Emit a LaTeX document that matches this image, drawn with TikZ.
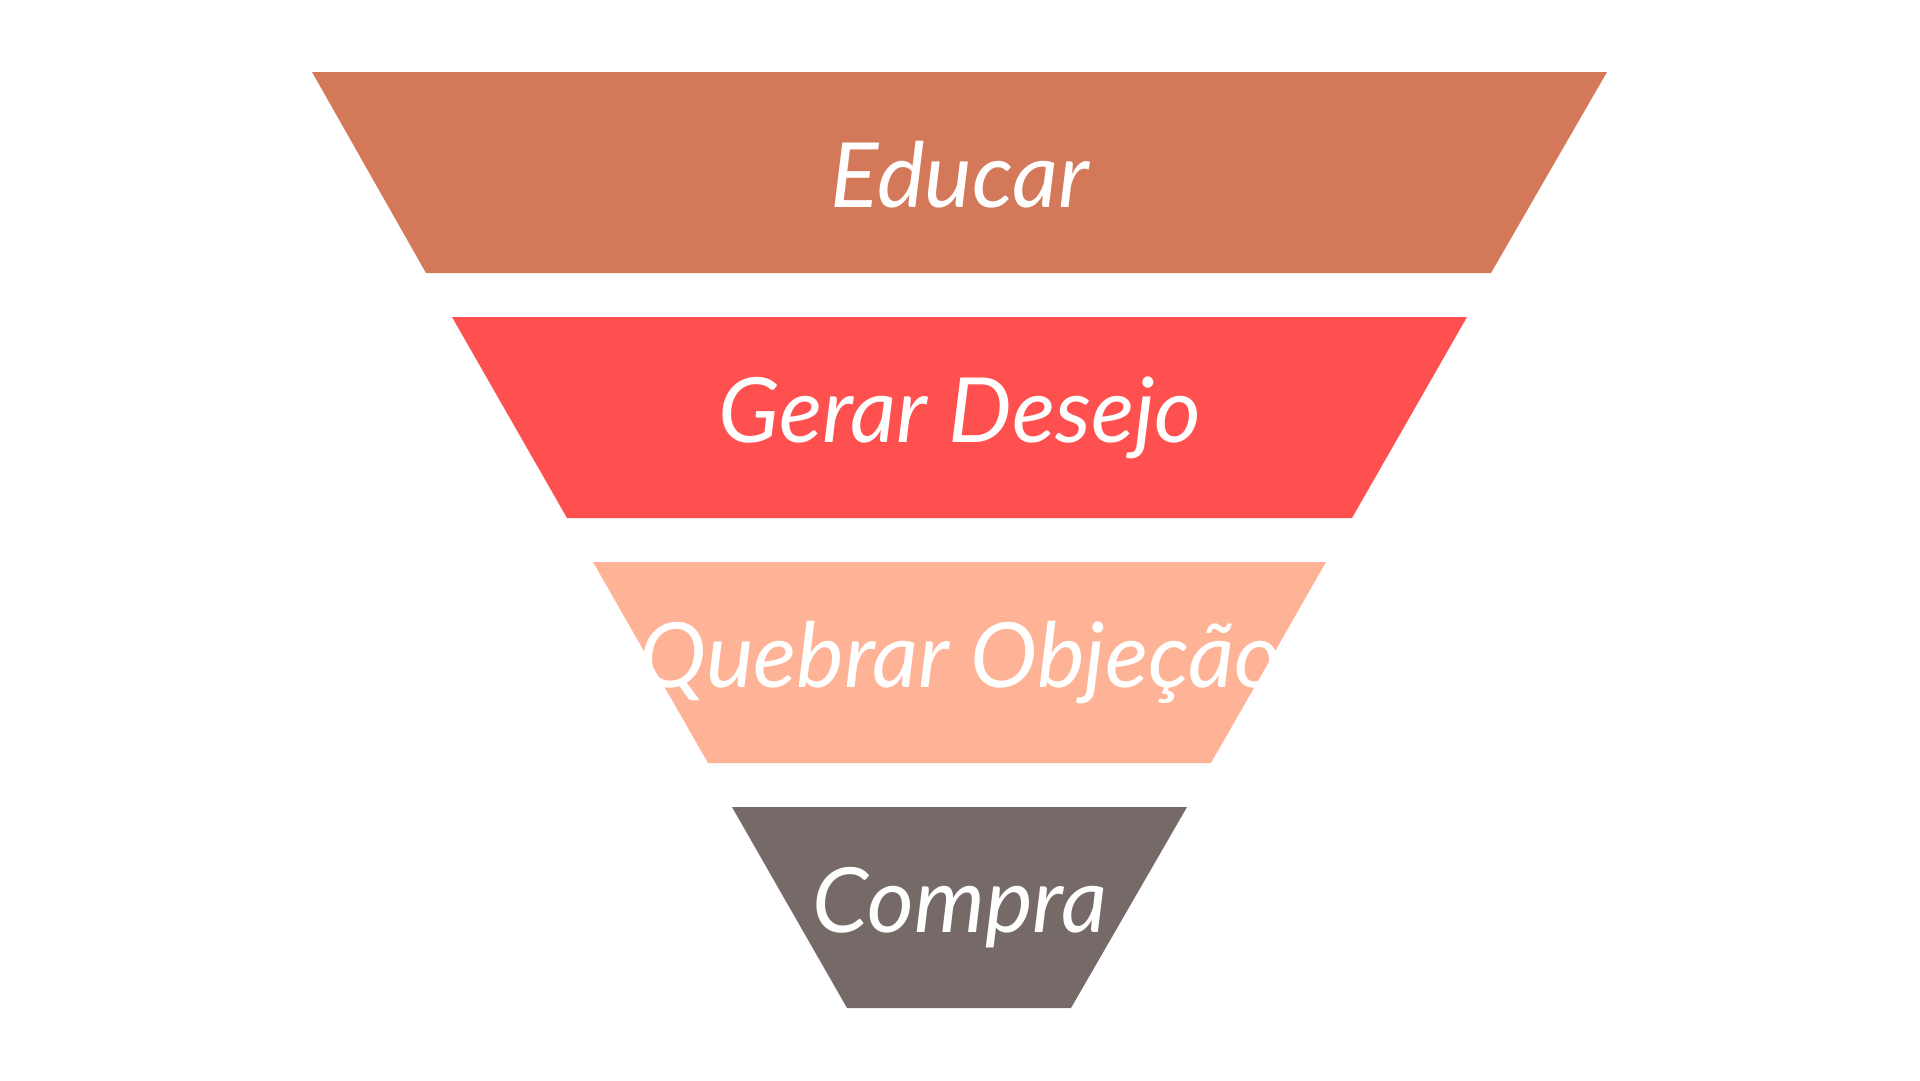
\documentclass[tikz,border=0pt]{standalone}
\usepackage{fontspec}
\setmainfont{Lato}
\definecolor{educar}{HTML}{D4785A}
\definecolor{desejo}{HTML}{FF5050}
\definecolor{objecao}{HTML}{FFB396}
\definecolor{compra}{HTML}{756A67}
\tikzset{label/.style = {text = white, font = \fontsize{90}{100}\selectfont\itshape}}

\begin{document}
\begin{tikzpicture}[x=1pt, y=-1pt]
      \useasboundingbox (0, 0) rectangle (1920, 1080);

      \fill [educar] (312, 72) -- (1607, 72) -- (1491, 273) -- (426, 273) -- cycle;
      \fill [desejo] (452, 317) -- (1467, 317) -- (1352, 518) -- (567, 518) -- cycle;
      \fill [objecao] (593, 562) -- (1326, 562) -- (1211, 763) -- (708, 763) -- cycle;
      \fill [compra] (732, 807) -- (1187, 807) -- (1071, 1008) -- (847, 1008) -- cycle;

      \node [label] (l1) at (960, 175) {Educar};
      \node [label] (l2) at (960, 418) {Gerar Desejo};
      \node [label] (l3) at (960, 663) {Quebrar Objeção};
      \node [label] (l4) at (960, 908) {Compra};
    \end{tikzpicture}
\end{document}
